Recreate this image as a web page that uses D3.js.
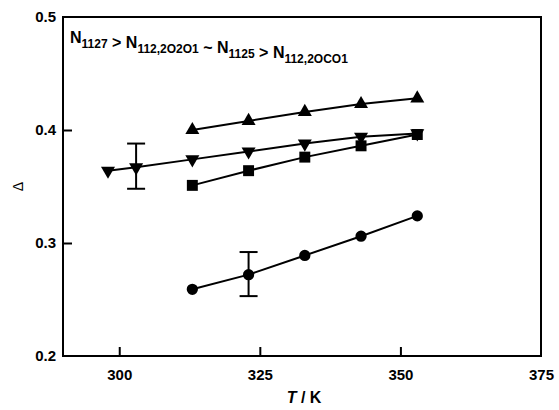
<!DOCTYPE html>
<html>
<head>
<meta charset="utf-8">
<script src="https://cdn.jsdelivr.net/npm/d3@7"></script>
<style>
  body { margin: 0; background: #fff; }
  svg text { font-family: "Liberation Sans", Arial, sans-serif; }
</style>
</head>
<body>
<svg id="chart" width="559" height="410"></svg>
<script>
// temperatures (K) and Delta values
const tUp = [313, 323, 333, 343, 353];
const upVals = [0.400, 0.408, 0.416, 0.423, 0.428];

const tDown = [298, 303, 313, 323, 333, 343, 353];
const downVals = [0.364, 0.367, 0.374, 0.381, 0.388, 0.394, 0.397];

const tSquare = [313, 323, 333, 343, 353];
const squareVals = [0.351, 0.364, 0.376, 0.386, 0.396];

const tCircle = [313, 323, 333, 343, 353];
const circleVals = [0.259, 0.272, 0.289, 0.306, 0.324];

// error bars: [T, low, high]
const errorBars = [[303, 0.348, 0.388], [323, 0.253, 0.292]];

const xTicks = [300, 325, 350, 375];
const yTicks = [0.2, 0.3, 0.4, 0.5];

const margin = { left: 63, right: 18, top: 17, bottom: 54 };
const width = 559, height = 410;

const svg = d3.select('#chart');

const x = d3.scaleLinear().domain([290, 375]).range([margin.left, width - margin.right]);
const y = d3.scaleLinear().domain([0.2, 0.5]).range([height - margin.bottom, margin.top]);

// axes (inward ticks, no ticks at frame ends)
const xAxis = svg.append('g')
    .attr('transform', `translate(0,${y(0.2)})`)
    .call(d3.axisBottom(x).tickValues(xTicks).tickSize(-9).tickPadding(13).tickFormat(d3.format('d')));
const yAxis = svg.append('g')
    .attr('transform', `translate(${x(290)},0)`)
    .call(d3.axisLeft(y).tickValues(yTicks).tickSize(-9).tickPadding(7).tickFormat(d3.format('.1f')));

[xAxis, yAxis].forEach(g => {
    g.select('.domain').remove();
    g.selectAll('.tick line').attr('stroke', '#000').attr('stroke-width', 2);
    g.selectAll('.tick text')
        .attr('fill', '#000')
        .style('font-size', '15px')
        .style('font-weight', 'bold');
});
xAxis.selectAll('.tick').filter(d => d === 375).select('line').remove();
yAxis.selectAll('.tick').filter(d => d === 0.2 || d === 0.5).select('line').remove();

// frame
svg.append('rect')
    .attr('x', x(290)).attr('y', y(0.5))
    .attr('width', x(375) - x(290)).attr('height', y(0.2) - y(0.5))
    .attr('fill', 'none').attr('stroke', '#000').attr('stroke-width', 2);

const line = d3.line().x(d => x(d[0])).y(d => y(d[1]));

const series = [
    { t: tUp, v: upVals, shape: 'up' },
    { t: tDown, v: downVals, shape: 'down' },
    { t: tSquare, v: squareVals, shape: 'square' },
    { t: tCircle, v: circleVals, shape: 'circle' }
];

const shapes = {
    up: d3.symbol().type(d3.symbolTriangle).size(85),
    down: d3.symbol().type(d3.symbolTriangle).size(85),
    square: d3.symbol().type(d3.symbolSquare).size(120),
    circle: d3.symbol().type(d3.symbolCircle).size(100)
};

series.forEach(s => {
    const pts = s.t.map((t, i) => [t, s.v[i]]);
    svg.append('path')
        .attr('d', line(pts))
        .attr('fill', 'none')
        .attr('stroke', '#000')
        .attr('stroke-width', 2);
    svg.append('g').selectAll('path')
        .data(pts)
        .join('path')
        .attr('d', shapes[s.shape])
        .attr('transform', d => `translate(${x(d[0])},${y(d[1])})` + (s.shape === 'down' ? ' rotate(180)' : ''))
        .attr('fill', '#000');
});

// error bars
const capW = 9;
errorBars.forEach(([t, lo, hi]) => {
    const g = svg.append('g').attr('stroke', '#000').attr('stroke-width', 2);
    g.append('line').attr('x1', x(t)).attr('x2', x(t)).attr('y1', y(lo)).attr('y2', y(hi));
    g.append('line').attr('x1', x(t) - capW).attr('x2', x(t) + capW).attr('y1', y(lo)).attr('y2', y(lo));
    g.append('line').attr('x1', x(t) - capW).attr('x2', x(t) + capW).attr('y1', y(hi)).attr('y2', y(hi));
});

// ordering text with subscripts
const label = svg.append('text')
    .attr('x', 70).attr('y', 43)
    .style('font-size', '16px')
    .style('font-weight', 'bold');
const parts = [['N', '1127'], [' > N', '112,2O2O1'], [' ~ N', '1125'], [' > N', '112,2OCO1']];
parts.forEach(([main, sub]) => {
    label.append('tspan').text(main);
    label.append('tspan').attr('dy', 5).style('font-size', '12px').text(sub);
    label.append('tspan').attr('dy', -5).text('');
});

// axis titles
const xt = svg.append('text')
    .attr('x', (x(290) + x(375)) / 2 + 2).attr('y', 403)
    .attr('text-anchor', 'middle')
    .style('font-size', '16px')
    .style('font-weight', 'bold');
xt.append('tspan').style('font-style', 'italic').text('T');
xt.append('tspan').text(' / K');

svg.append('text')
    .attr('transform', `translate(23,${(y(0.2) + y(0.5)) / 2}) rotate(-90)`)
    .attr('text-anchor', 'middle')
    .style('font-size', '14px')
    .text('Δ');
</script>
</body>
</html>
